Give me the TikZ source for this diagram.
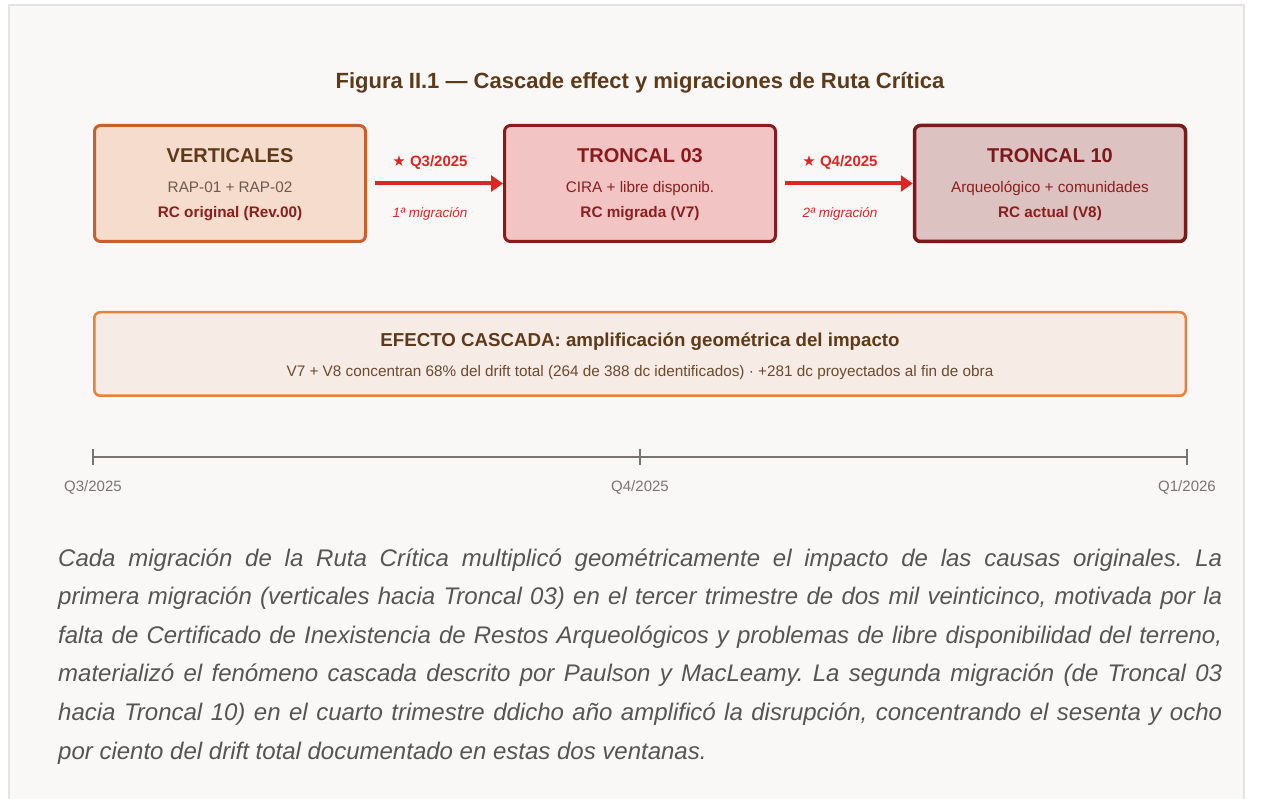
\documentclass[tikz,border=0pt]{standalone}
\usepackage{fontspec}
\setmainfont{Liberation Sans}
\newfontfamily\symfont{DejaVu Sans}
\usetikzlibrary{arrows.meta, positioning}
\frenchspacing

\definecolor{bgpage}{HTML}{F9F8F6}
\definecolor{frameline}{HTML}{E3E3E3}
\definecolor{titlebrown}{HTML}{5C3A1A}
\definecolor{vertfill}{HTML}{F5DCCC}
\definecolor{vertline}{HTML}{C9602B}
\definecolor{vertsub}{HTML}{6E5A4C}
\definecolor{darkred}{HTML}{8B1E1E}
\definecolor{tr03fill}{HTML}{F2C4C4}
\definecolor{tr03line}{HTML}{8B1A1A}
\definecolor{tr10fill}{HTML}{DCC2C0}
\definecolor{tr10line}{HTML}{7B1A1A}
\definecolor{migred}{HTML}{DC2626}
\definecolor{cascfill}{HTML}{F7EBE5}
\definecolor{cascline}{HTML}{E8803E}
\definecolor{cascsub}{HTML}{6B4A2E}
\definecolor{axisgray}{HTML}{7A7470}
\definecolor{parcolor}{HTML}{555555}

\tikzset{
  rcbox/.style={draw, line width=3pt, rounded corners=6pt, minimum width=271pt, minimum height=116pt, inner sep=0pt},
  boxhead/.style={anchor=base, font=\bfseries\fontsize{20}{24}\selectfont},
  boxsub/.style={anchor=base, font=\fontsize{15.3}{18}\selectfont},
  boxrc/.style={anchor=base, font=\bfseries\fontsize{15.3}{18}\selectfont},
  migarrow/.style={migred, line width=4pt, -{Triangle[length=12pt,width=16pt]}},
  miglabel/.style={anchor=base, migred, font=\bfseries\fontsize{15}{18}\selectfont},
  mignote/.style={anchor=base, migred, font=\itshape\fontsize{13.5}{16}\selectfont},
  ticklabel/.style={anchor=base, axisgray, font=\fontsize{15}{18}\selectfont}
}

\begin{document}
\begin{tikzpicture}[x=1pt, y=-1pt]
      \useasboundingbox (0,0) rectangle (1275,799);
      \draw[frameline, fill=bgpage, line width=2pt] (9,5) rectangle (1244,830);

      % Title
      \node[anchor=base, titlebrown, font=\bfseries\fontsize{22}{26}\selectfont] (title) at (640,88.5)
        {Figura II.1 — Cascade effect y migraciones de Ruta Crítica};

      % Route boxes
      \node[rcbox, vertline, fill=vertfill] (vert) at (230,183.5) {};
      \node[boxhead, titlebrown] (verthead) at (230,163) {VERTICALES};
      \node[boxsub, vertsub] (vertsub) at (230,192.5) {RAP-01 + RAP-02};
      \node[boxrc, darkred] (vertrc) at (230,218) {RC original (Rev.00)};

      \node[rcbox, tr03line, fill=tr03fill] (tr03) at (640,183.5) {};
      \node[boxhead, tr03line] (tr03head) at (640,163) {TRONCAL 03};
      \node[boxsub, darkred] (tr03sub) at (640,192.5) {CIRA + libre disponib.};
      \node[boxrc, darkred] (tr03rc) at (640,218) {RC migrada (V7)};

      \node[rcbox, tr10line, fill=tr10fill, line width=3.5pt] (tr10) at (1050,183.5) {};
      \node[boxhead, tr10line] (tr10head) at (1050,163) {TRONCAL 10};
      \node[boxsub, darkred] (tr10sub) at (1050,192.5) {Arqueológico + comunidades};
      \node[boxrc, darkred] (tr10rc) at (1050,218) {RC actual (V8)};

      % Migrations
      \draw[migarrow] ([xshift=8pt]vert.east) -- (tr03.west);
      \node[miglabel] (mig1) at (430,166.5) {{\symfont\fontsize{15}{18}\selectfont ★} Q3/2025};
      \node[mignote] (mig1note) at (430,218) {1ª migración};

      \draw[migarrow] ([xshift=8pt]tr03.east) -- (tr10.west);
      \node[miglabel] (mig2) at (840,166.5) {{\symfont\fontsize{15}{18}\selectfont ★} Q4/2025};
      \node[mignote] (mig2note) at (840,218) {2ª migración};

      % Cascade summary
      \node[draw=cascline, fill=cascfill, line width=2.5pt, rounded corners=6pt,
        minimum width=1091.5pt, minimum height=83.5pt] (casc) at (640,354) {};
      \node[anchor=base, titlebrown, font=\bfseries\fontsize{18.7}{22}\selectfont] (cascttl) at (640,346.5)
        {EFECTO CASCADA: amplificación geométrica del impacto};
      \node[anchor=base, cascsub, font=\fontsize{15.3}{18}\selectfont] (cascsub) at (640,376.5)
        {V7 + V8 concentran 68\% del drift total (264 de 388 dc identificados) · +281 dc proyectados al fin de obra};

      % Timeline
      \coordinate (t0) at (93,457);
      \coordinate (t1) at (640,457);
      \coordinate (t2) at (1187,457);
      \draw[axisgray, line width=2pt] (t0) -- (t2);
      \draw[axisgray, line width=1.5pt] ([yshift=8pt]t0) -- ([yshift=-8pt]t0);
      \draw[axisgray, line width=1.5pt] ([yshift=8pt]t1) -- ([yshift=-8pt]t1);
      \draw[axisgray, line width=1.5pt] ([yshift=8pt]t2) -- ([yshift=-8pt]t2);
      \node[ticklabel] (q3) at (93,491) {Q3/2025};
      \node[ticklabel] (q4) at (640,491) {Q4/2025};
      \node[ticklabel] (q1) at (1187,491) {Q1/2026};

      % Caption paragraph
      \node[anchor=base west, inner sep=0pt, text width=1164pt, align=justify, parcolor,
        font=\itshape\fontsize{24}{38.6}\selectfont] (caption) at (58,566)
        {Cada migración de la Ruta Crítica multiplicó geométricamente el impacto de las causas originales. La\linebreak
         primera migración (verticales hacia Troncal 03) en el tercer trimestre de dos mil veinticinco, motivada por la\linebreak
         falta de Certificado de Inexistencia de Restos Arqueológicos y problemas de libre disponibilidad del terreno,\linebreak
         materializó el fenómeno cascada descrito por Paulson y MacLeamy. La segunda migración (de Troncal 03\linebreak
         hacia Troncal 10) en el cuarto trimestre ddicho año amplificó la disrupción, concentrando el sesenta y ocho\linebreak
         por ciento del drift total documentado en estas dos ventanas.};
    \end{tikzpicture}
\end{document}
